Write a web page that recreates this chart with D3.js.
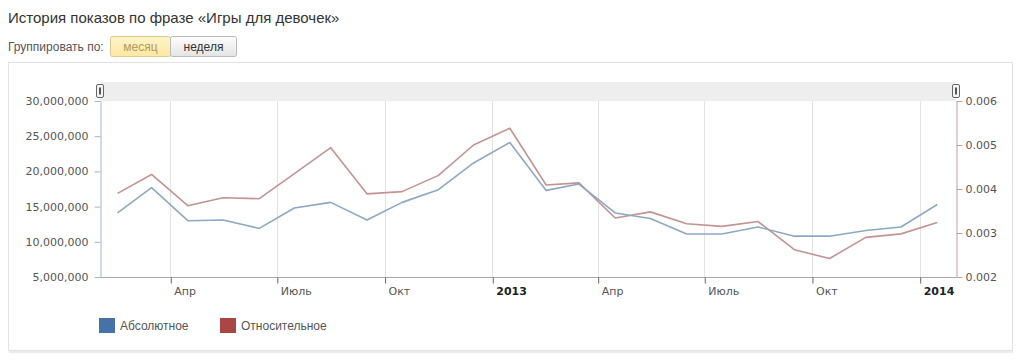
<!DOCTYPE html>
<html>
<head>
<meta charset="utf-8">
<script src="https://cdn.jsdelivr.net/npm/d3@7"></script>
<style>
  html, body { margin: 0; padding: 0; background: #fff; }
  svg { display: block; }
</style>
</head>
<body>
<div id="chart"></div>
<script>
// monthly points, Feb 2012 .. Jan 2014
const months = [
  '2012-02', '2012-03', '2012-04', '2012-05', '2012-06', '2012-07',
  '2012-08', '2012-09', '2012-10', '2012-11', '2012-12', '2013-01',
  '2013-02', '2013-03', '2013-04', '2013-05', '2013-06', '2013-07',
  '2013-08', '2013-09', '2013-10', '2013-11', '2013-12', '2014-01'
];
const absolute = [
  14100000, 17700000, 13000000, 13100000, 11900000, 14800000,
  15600000, 13100000, 15600000, 17400000, 21200000, 24100000,
  17300000, 18200000, 14100000, 13300000, 11100000, 11100000,
  12100000, 10800000, 10800000, 11600000, 12100000, 15300000
];
const relative = [
  0.00390, 0.00433, 0.00362, 0.00380, 0.00378, 0.00435,
  0.00494, 0.00389, 0.00394, 0.00431, 0.00500, 0.00538,
  0.00409, 0.00414, 0.00334, 0.00348, 0.00321, 0.00315,
  0.00326, 0.00262, 0.00242, 0.00290, 0.00298, 0.00324
];
const leftTicks = [5000000, 10000000, 15000000, 20000000, 25000000, 30000000];
const rightTicks = [0.002, 0.003, 0.004, 0.005, 0.006];
const monthNames = ['Янв', 'Фев', 'Мар', 'Апр', 'Май', 'Июнь', 'Июль', 'Авг', 'Сен', 'Окт', 'Ноя', 'Дек'];
const seriesNames = ['Абсолютное', 'Относительное'];

const W = 1024, H = 362;
const plot = { left: 100, right: 956, top: 101, bottom: 277 };

const svg = d3.select('#chart').append('svg')
  .attr('width', W)
  .attr('height', H);

// header
svg.append('text')
  .attr('x', 8).attr('y', 23)
  .attr('fill', '#333')
  .style('font', '15px "Liberation Sans", Arial, sans-serif')
  .text('История показов по фразе «Игры для девочек»');

svg.append('text')
  .attr('x', 8).attr('y', 51)
  .attr('fill', '#555')
  .style('font', '12px "Liberation Sans", Arial, sans-serif')
  .text('Группировать по:');

const defs = svg.append('defs');
const gOn = defs.append('linearGradient').attr('id', 'btnOn').attr('x1', 0).attr('y1', 0).attr('x2', 0).attr('y2', 1);
gOn.append('stop').attr('offset', '0%').attr('stop-color', '#fff4c8');
gOn.append('stop').attr('offset', '100%').attr('stop-color', '#fde8a4');
const gOff = defs.append('linearGradient').attr('id', 'btnOff').attr('x1', 0).attr('y1', 0).attr('x2', 0).attr('y2', 1);
gOff.append('stop').attr('offset', '0%').attr('stop-color', '#fdfdfd');
gOff.append('stop').attr('offset', '100%').attr('stop-color', '#e4e4e4');

svg.append('rect')
  .attr('x', 110.5).attr('y', 36.5).attr('width', 60).attr('height', 20).attr('rx', 2)
  .attr('fill', 'url(#btnOn)').attr('stroke', '#dccb90');
svg.append('rect')
  .attr('x', 170.5).attr('y', 36.5).attr('width', 66).attr('height', 20).attr('rx', 2)
  .attr('fill', 'url(#btnOff)').attr('stroke', '#bbb');
svg.append('text')
  .attr('x', 140.5).attr('y', 51).attr('text-anchor', 'middle')
  .attr('fill', '#b39b5c')
  .style('font', '12px "Liberation Sans", Arial, sans-serif')
  .text('месяц');
svg.append('text')
  .attr('x', 203.5).attr('y', 51).attr('text-anchor', 'middle')
  .attr('fill', '#333')
  .style('font', '12px "Liberation Sans", Arial, sans-serif')
  .text('неделя');

// chart box
svg.append('rect')
  .attr('x', 8.5).attr('y', 62.5).attr('width', 1004).attr('height', 288)
  .attr('fill', '#fff').attr('stroke', '#e2e2e2');
svg.append('line')
  .attr('x1', 9).attr('x2', 1013).attr('y1', 352).attr('y2', 352)
  .attr('stroke', '#ececec').attr('stroke-width', 2);

// scales
const parse = d3.timeParse('%Y-%m');
const points = months.map((m, i) => {
  const d = parse(m);
  return { date: new Date(d.getFullYear(), d.getMonth(), 16), abs: absolute[i], rel: relative[i] };
});

const x = d3.scaleTime()
  .domain([new Date(2012, 1, 1), new Date(2014, 1, 1)])
  .range([plot.left, plot.right]);
const yL = d3.scaleLinear().domain([5000000, 30000000]).range([plot.bottom, plot.top]);
const yR = d3.scaleLinear().domain([0.002, 0.006]).range([plot.bottom, plot.top]);

// navigator band + handles
svg.append('rect')
  .attr('x', plot.left).attr('y', 82).attr('width', plot.right - plot.left).attr('height', plot.top - 82)
  .attr('fill', '#eeeeee');
[plot.left, plot.right].forEach(hx => {
  svg.append('rect')
    .attr('x', hx - 3.5).attr('y', 84.5).attr('width', 7).attr('height', 13).attr('rx', 1.5)
    .attr('fill', '#f4f4f4').attr('stroke', '#666');
  svg.append('line')
    .attr('x1', hx).attr('x2', hx).attr('y1', 87.5).attr('y2', 94.5)
    .attr('stroke', '#555').attr('stroke-width', 2);
});

// x grid + axis
const xTicks = x.ticks(d3.timeMonth.every(3));
svg.append('g')
  .selectAll('line')
  .data(xTicks)
  .join('line')
  .attr('x1', d => Math.round(x(d)) + 0.5).attr('x2', d => Math.round(x(d)) + 0.5)
  .attr('y1', plot.top).attr('y2', plot.bottom)
  .attr('stroke', '#e3e3e3');

const xAxis = d3.axisBottom(x)
  .tickValues(xTicks)
  .tickSize(6)
  .tickSizeOuter(0)
  .tickFormat(d => d.getMonth() === 0 ? d.getFullYear() : monthNames[d.getMonth()]);

const gx = svg.append('g')
  .attr('transform', `translate(0.5,${plot.bottom + 0.5})`)
  .call(xAxis);
gx.select('.domain').attr('stroke', '#a8a8a8').attr('d', `M${plot.left - 0.5},0H${plot.right - 0.5}`);
gx.selectAll('.tick line').attr('stroke', '#666');
gx.selectAll('.tick text')
  .attr('text-anchor', 'start')
  .attr('x', 3)
  .attr('y', 10)
  .attr('fill', d => d.getMonth() === 0 ? '#222' : '#555')
  .style('font-family', '"DejaVu Sans", Verdana, sans-serif')
  .style('font-size', '11px')
  .style('font-weight', d => d.getMonth() === 0 ? 'bold' : 'normal');

// left axis
const gl = svg.append('g')
  .attr('transform', `translate(${plot.left + 0.5},0)`)
  .call(d3.axisLeft(yL).tickValues(leftTicks).tickSize(6).tickSizeOuter(0).tickFormat(d3.format(',')));
gl.select('.domain').attr('stroke', '#a6b6cb');
gl.selectAll('.tick line').attr('stroke', '#a6b6cb');
gl.selectAll('.tick text')
  .attr('x', -12)
  .attr('fill', '#555')
  .style('font-family', '"DejaVu Sans", Verdana, sans-serif')
  .style('font-size', '11px');

// right axis
const gr = svg.append('g')
  .attr('transform', `translate(${plot.right + 0.5},0)`)
  .call(d3.axisRight(yR).tickValues(rightTicks).tickSize(6).tickSizeOuter(0).tickFormat(d3.format('.3f')));
gr.select('.domain').attr('stroke', '#c4a0a0');
gr.selectAll('.tick line').attr('stroke', '#c4a0a0');
gr.selectAll('.tick text')
  .attr('x', 9)
  .attr('fill', '#555')
  .style('font-family', '"DejaVu Sans", Verdana, sans-serif')
  .style('font-size', '11px');

// lines
const lineAbs = d3.line().x(d => x(d.date)).y(d => yL(d.abs));
const lineRel = d3.line().x(d => x(d.date)).y(d => yR(d.rel));

svg.append('path')
  .datum(points)
  .attr('d', lineRel)
  .attr('fill', 'none')
  .attr('stroke', '#c39393')
  .attr('stroke-width', 1.6)
  .attr('stroke-linejoin', 'round');

svg.append('path')
  .datum(points)
  .attr('d', lineAbs)
  .attr('fill', 'none')
  .attr('stroke', '#8ea8c2')
  .attr('stroke-width', 1.6)
  .attr('stroke-linejoin', 'round');

// legend
const legendColors = ['#4572a7', '#aa4643'];
const legend = svg.append('g').attr('transform', 'translate(99,318)');
seriesNames.forEach((name, i) => {
  const g = legend.append('g').attr('transform', `translate(${i * 121},0)`);
  g.append('rect').attr('width', 16).attr('height', 15).attr('fill', legendColors[i]);
  g.append('text')
    .attr('x', 21).attr('y', 12)
    .attr('fill', '#555')
    .style('font', '12px "Liberation Sans", Arial, sans-serif')
    .text(name);
});
</script>
</body>
</html>
